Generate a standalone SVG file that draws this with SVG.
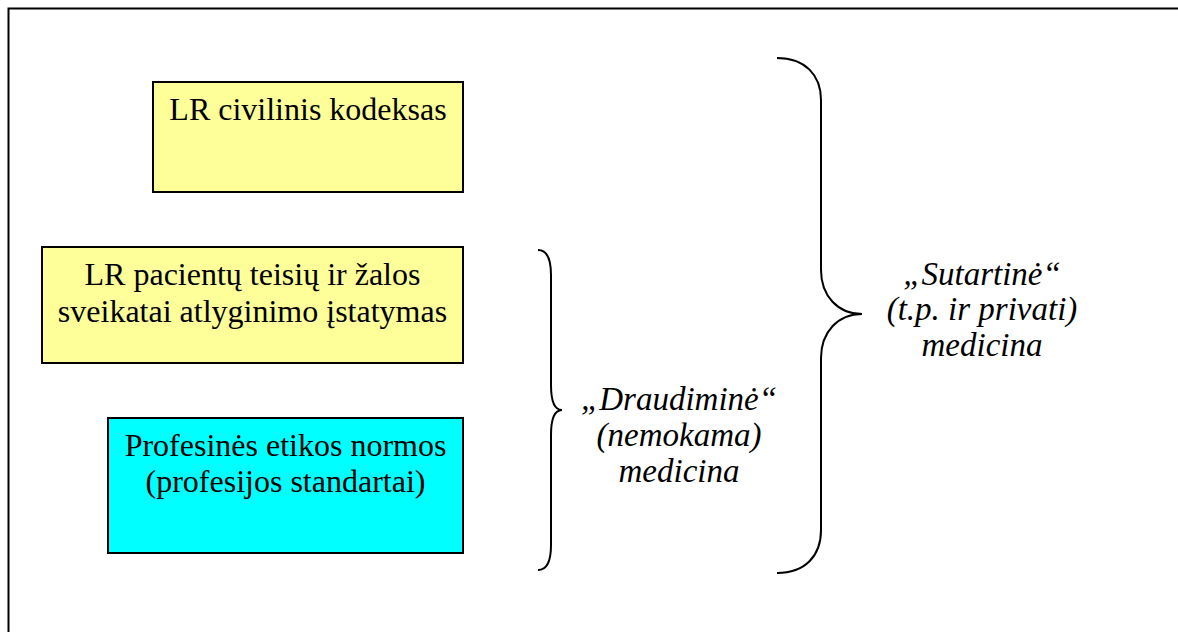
<svg xmlns="http://www.w3.org/2000/svg" width="1178" height="632" viewBox="0 0 1178 632">
<style>
.frame{fill:none;stroke:#000;stroke-width:2}
.box{stroke:#000;stroke-width:2}
.yellow{fill:#FFFF99}
.cyan{fill:#00FFFF}
.t{font-family:"Liberation Serif","Times New Roman",serif;font-size:32px;fill:#000;text-anchor:middle}
.it{font-style:italic;font-size:33px}
.brace{fill:none;stroke:#000;stroke-width:2}
</style>
<rect width="1178" height="632" fill="#fff"/>
<path class="frame" d="M8.5,632 L8.5,8.5 L1178,8.5"/>
<g id="node-civilinis">
<rect class="box yellow" x="153" y="82" width="310" height="110"/>
<text class="t" x="308" y="120">LR civilinis kodeksas</text>
</g>
<g id="node-pacientu">
<rect class="box yellow" x="42" y="247" width="421" height="116"/>
<text class="t" x="252.5" y="285">LR pacientų teisių ir žalos</text>
<text class="t" x="252.5" y="322">sveikatai atlyginimo įstatymas</text>
</g>
<g id="node-etikos">
<rect class="box cyan" x="108" y="418" width="355" height="135"/>
<text class="t" x="285.5" y="456">Profesinės etikos normos</text>
<text class="t" x="285.5" y="492">(profesijos standartai)</text>
</g>
<g id="connectors">
<path class="brace" d="M538,250 C546,250 551,258 551,275 L551,385 C551,401 555,410 562,410 C555,410 551,419 551,435 L551,545 C551,562 546,570 538,570"/>
<path class="brace" d="M777,58 C805,58 821,75 821,100 L821,270 C821,296 838,314 862,314 C838,314 821,332 821,358 L821,530 C821,556 805,573 777,573"/>
</g>
<g id="node-draudimine">
<text class="t it" x="679" y="410">„Draudiminė“</text>
<text class="t it" x="679" y="446">(nemokama)</text>
<text class="t it" x="679" y="482">medicina</text>
</g>
<g id="node-sutartine">
<text class="t it" x="982" y="285">„Sutartinė“</text>
<text class="t it" x="982" y="320">(t.p. ir privati)</text>
<text class="t it" x="982" y="356">medicina</text>
</g>
</svg>
